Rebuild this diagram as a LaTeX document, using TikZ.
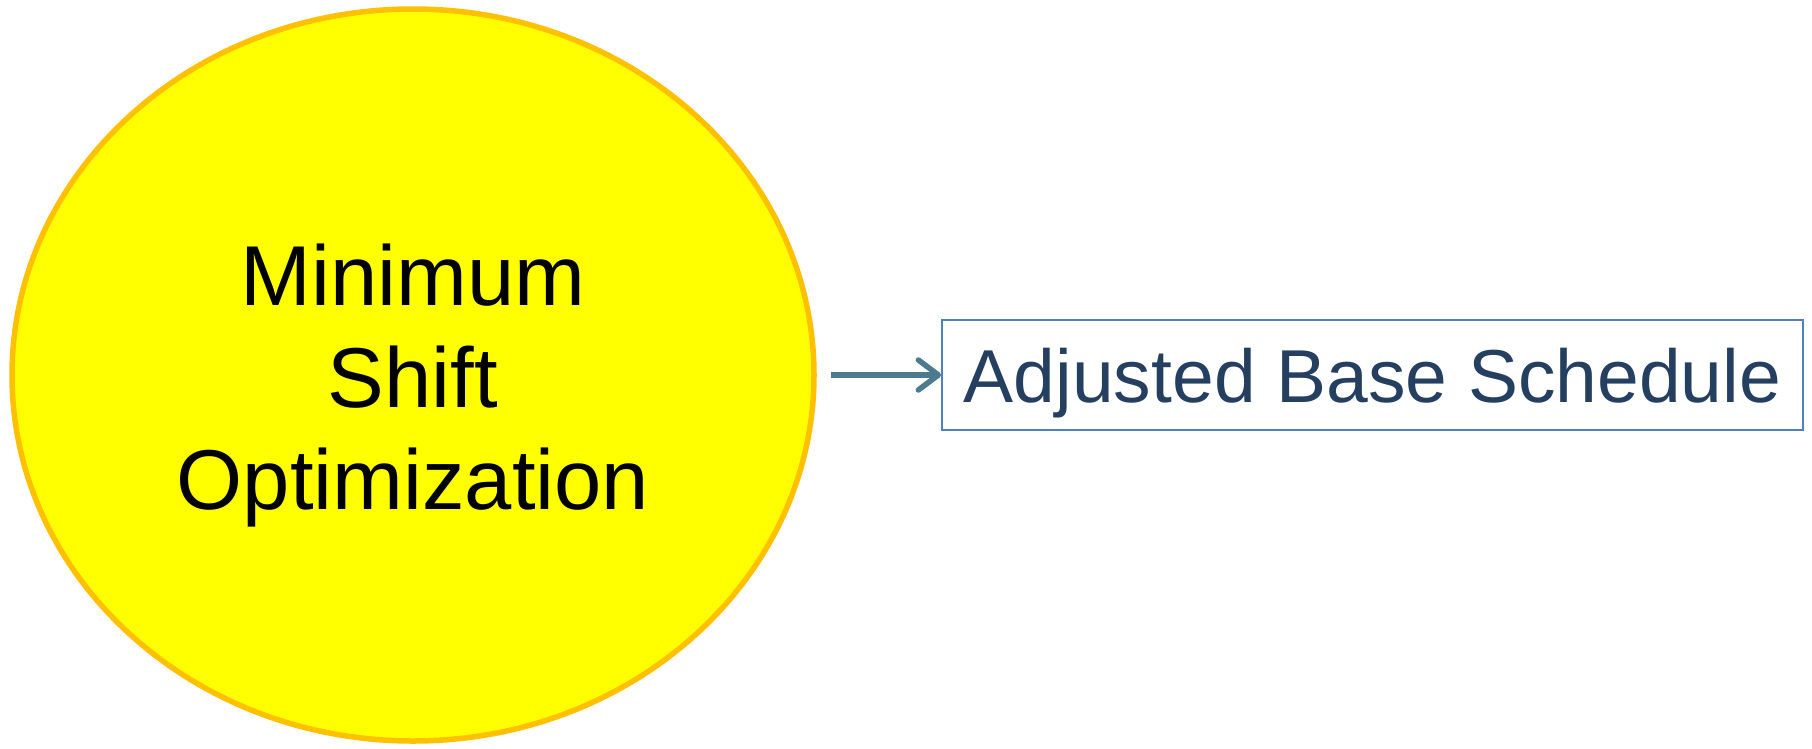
\documentclass[tikz,border=0pt]{standalone}
\usepackage{fontspec}
\setmainfont{Liberation Sans}
\usetikzlibrary{shapes.geometric,arrows.meta}
\definecolor{sunfill}{HTML}{FFFF00}
\definecolor{sunrim}{HTML}{FFC000}
\definecolor{boxrim}{HTML}{4F81BD}
\definecolor{boxtext}{HTML}{243F60}
\definecolor{linkcol}{HTML}{4D7A8E}
\tikzset{
  bigoval/.style={ellipse, draw=sunrim, fill=sunfill, line width=5.5pt,
    minimum width=802pt, minimum height=732pt, inner sep=0pt},
  ovaltext/.style={align=center, font=\fontsize{85pt}{102pt}\selectfont, text=black},
  outbox/.style={rectangle, draw=boxrim, line width=1.8pt, fill=white,
    minimum width=861pt, minimum height=110pt, inner sep=0pt,
    font=\fontsize{75pt}{90pt}\selectfont, text=boxtext,
    text height=64pt, text depth=10pt},
  link/.style={draw=linkcol, line width=5.5pt,
    -{Straight Barb[length=20pt, width=30pt, round]}}
}
\begin{document}
\begin{tikzpicture}[x=1pt, y=1pt]
  \useasboundingbox (0,0) rectangle (1812,-748);
  \node[bigoval] (oval) at (413,-375) {};
  \node[ovaltext] (ovallabel) at (413,-386) {Minimum\\Shift\\Optimization};
  \node[outbox] (result) at (1372.5,-375) {Adjusted Base Schedule};
  \draw[link, shorten <=14pt] (oval.east) -- (result.west);
\end{tikzpicture}
\end{document}
